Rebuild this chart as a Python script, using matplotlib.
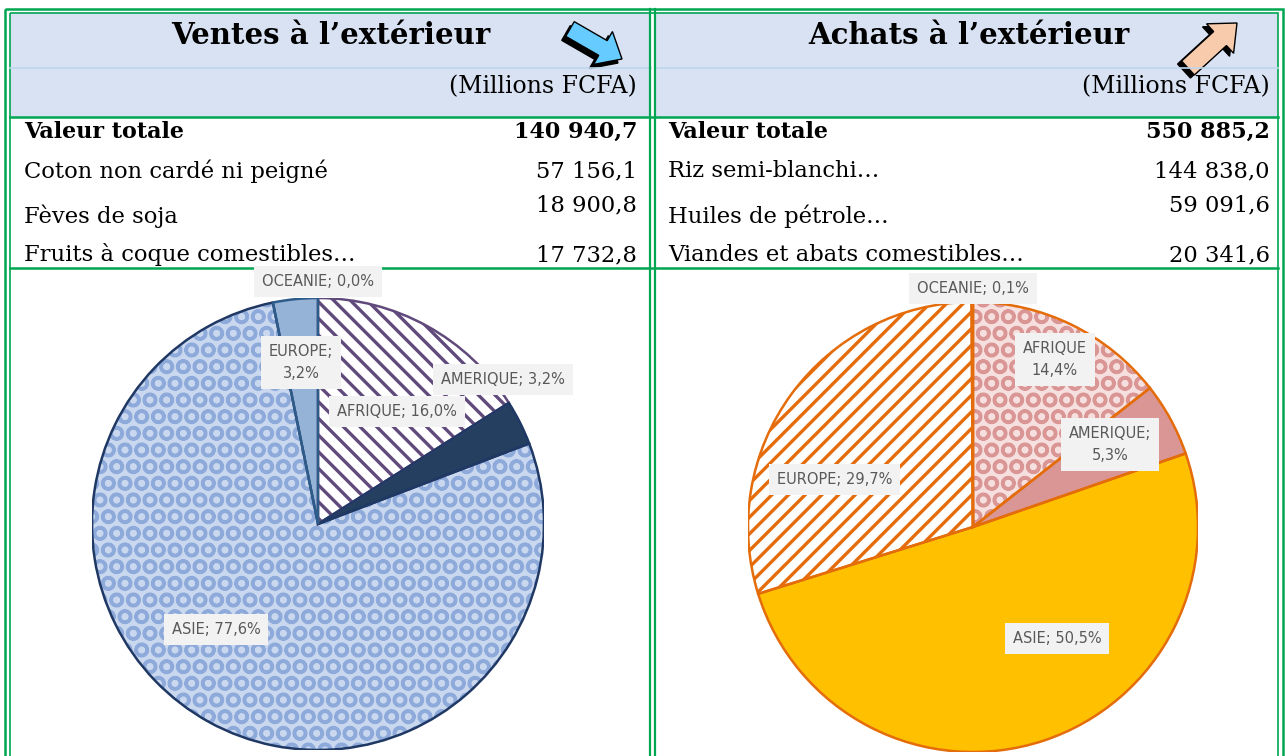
import matplotlib
matplotlib.use("Agg")
import numpy as np
import matplotlib.pyplot as plt
from matplotlib.patches import Rectangle, Wedge, FancyArrow

plt.rcParams["hatch.linewidth"] = 2.4

# Data
titles = ["Ventes à l’extérieur", "Achats à l’extérieur"]
unit_label = "(Millions FCFA)"
totals = [140940.7, 550885.2]
ventes_products = ["Coton non cardé ni peigné", "Fèves de soja", "Fruits à coque comestibles…"]
ventes_values = [57156.1, 18900.8, 17732.8]
achats_products = ["Riz semi-blanchi…", "Huiles de pétrole…", "Viandes et abats comestibles…"]
achats_values = [144838.0, 59091.6, 20341.6]

regions = ["AFRIQUE", "AMERIQUE", "ASIE", "EUROPE", "OCEANIE"]
ventes_parts = [16.0, 3.2, 77.6, 3.2, 0.0]
achats_parts = [14.4, 5.3, 50.5, 29.7, 0.1]

# Styles
GREEN = "#00A651"
HEADER_BG = "#D9E2F3"
LABEL_BG = "#F2F2F2"
LABEL_FG = "#595959"

ventes_style = {
    "face": ["white", "#243F60", "#C9D8EE", "#95B3D7", "#95B3D7"],
    "hatch": ["\\\\", None, "O", None, None],
    "hatch_color": ["#604A7B", None, "#8EAADB", None, None],
    "wedge_edge": ["#604A7B", "#1F3864", "#1F3864", "#2E5C8A", "#1F3864"],
    "label_sep": ["; ", "; ", "; ", ";\n", "; "],
    "label_pos": [(0.61, 55), (1.04, 38), (0.65, 226), (0.72, 96), (1.075, 90)],
}
achats_style = {
    "face": ["#F6E0DF", "#DA9694", "#FFC000", "white", "#DA9694"],
    "hatch": ["O", None, None, "//", None],
    "hatch_color": ["#DA9694", None, None, "#E46C0A", None],
    "wedge_edge": ["#E46C0A"] * 5,
    "label_sep": ["\n", ";\n", "; ", "; ", "; "],
    "label_pos": [(0.83, 64), (0.71, 31), (0.62, -53), (0.65, 161), (1.06, 90)],
}


def fmt(v):
    return f"{v:,.1f}".replace(",", " ").replace(".", ",")


fig = plt.figure(figsize=(12.85, 7.56), dpi=100)
ax = fig.add_axes([0, 0, 1, 1])
ax.set_xlim(0, 1285)
ax.set_ylim(756, 0)
ax.axis("off")

# header backgrounds
panels = [(10, 651), (656, 1278)]
for x0, x1 in panels:
    ax.add_patch(Rectangle((x0, 13), x1 - x0, 104, facecolor=HEADER_BG, edgecolor="none"))
    ax.plot([x0, x1], [68, 68], color="#BDD7EE", lw=1.2)

# green frame (double lines)
ax.add_patch(Rectangle((5, 9), 1278, 760, fill=False, edgecolor=GREEN, lw=1.8))
ax.add_patch(Rectangle((10, 13), 1268, 760, fill=False, edgecolor=GREEN, lw=1.2))
for x in [650, 655]:
    ax.plot([x, x], [9, 756], color=GREEN, lw=1.6)
for y in [117, 268]:
    ax.plot([10, 1278], [y, y], color=GREEN, lw=1.8)

tables = [(ventes_products, ventes_values), (achats_products, achats_values)]
text_left = [24, 668]
text_right = [637, 1270]
title_x = [331, 969]
row_y = [171, 216, 255]
value_y = [171, 205, 255]
SERIF = "DejaVu Serif"

for i in range(2):
    ax.text(title_x[i], 35, titles[i], family=SERIF, fontweight="bold",
            fontsize=21, ha="center", va="center")
    ax.text(text_right[i], 87, unit_label, family=SERIF, fontsize=17,
            ha="right", va="center")
    ax.text(text_left[i], 132, "Valeur totale", family=SERIF, fontweight="bold",
            fontsize=16, ha="left", va="center")
    ax.text(text_right[i], 132, fmt(totals[i]), family=SERIF, fontweight="bold",
            fontsize=16, ha="right", va="center")
    names, vals = tables[i]
    for j in range(3):
        ax.text(text_left[i], row_y[j], names[j], family=SERIF, fontsize=16.3,
                ha="left", va="center")
        ax.text(text_right[i], value_y[j], fmt(vals[j]), family=SERIF, fontsize=16.3,
                ha="right", va="center")

# decorative arrows in the headers
ax.add_patch(FancyArrow(566, 33, 52, 30, width=17, head_width=38, head_length=22,
                        length_includes_head=True, facecolor="black", edgecolor="black", lw=1))
ax.add_patch(FancyArrow(570, 29, 52, 30, width=17, head_width=38, head_length=22,
                        length_includes_head=True, facecolor="#66CCFF", edgecolor="black", lw=1))
ax.add_patch(FancyArrow(1184, 71, 49, -45, width=19, head_width=40, head_length=23,
                        length_includes_head=True, facecolor="black", edgecolor="black", lw=1))
ax.add_patch(FancyArrow(1188, 68, 49, -45, width=19, head_width=40, head_length=23,
                        length_includes_head=True, facecolor="#F8CBAD", edgecolor="black", lw=1))


def draw_pie(center, radius, parts, style):
    cx, cy = center
    pax = fig.add_axes([(cx - radius) / 1285, (756 - cy - radius) / 756,
                        2 * radius / 1285, 2 * radius / 756])
    wedges, _ = pax.pie(parts, startangle=90, counterclock=False,
                        colors=style["face"], wedgeprops=dict(linewidth=0))
    for k, w in enumerate(wedges):
        if style["hatch"][k]:
            pax.add_patch(Wedge(w.center, w.r, w.theta1, w.theta2, facecolor="none",
                                edgecolor=style["hatch_color"][k], lw=0,
                                hatch=style["hatch"][k], zorder=2))
    for k, w in enumerate(wedges):
        if parts[k] > 0:
            pax.add_patch(Wedge(w.center, w.r, w.theta1, w.theta2, facecolor="none",
                                edgecolor=style["wedge_edge"][k], lw=1.8, zorder=3))
    for k, name in enumerate(regions):
        r, ang = style["label_pos"][k]
        x = r * np.cos(np.radians(ang))
        y = r * np.sin(np.radians(ang))
        label = f"{name}{style['label_sep'][k]}{fmt(parts[k])}%"
        pax.text(x, y, label, ha="center", va="center", fontsize=10.5, color=LABEL_FG,
                 family="DejaVu Sans", linespacing=1.6, zorder=5,
                 bbox=dict(boxstyle="square,pad=0.55", facecolor=LABEL_BG, edgecolor="none"))
    pax.set_xlim(-1, 1)
    pax.set_ylim(-1, 1)
    pax.axis("off")


draw_pie((318, 524), 226, ventes_parts, ventes_style)
draw_pie((973, 527), 225, achats_parts, achats_style)

fig.savefig("out.png", dpi=100)
